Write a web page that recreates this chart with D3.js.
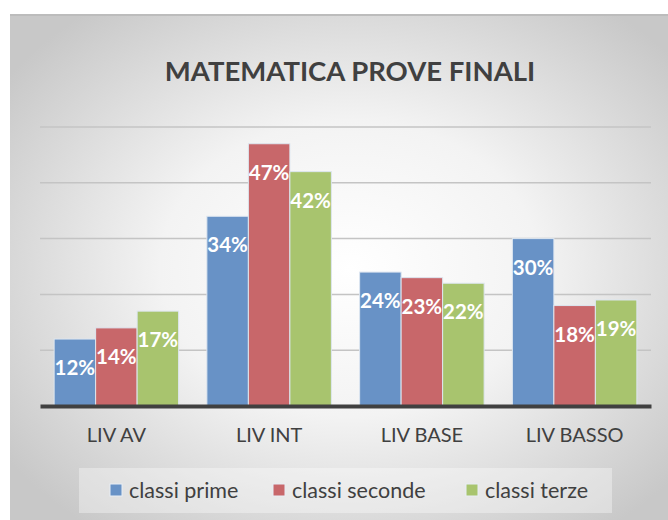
<!DOCTYPE html>
<html>
<head>
<meta charset="utf-8">
<script src="https://cdn.jsdelivr.net/npm/d3@7"></script>
<style>
  body { margin: 0; background: #ffffff; }
  svg { display: block; font-family: Lato, "Open Sans", sans-serif; }
</style>
</head>
<body>
<div id="chart"></div>
<script>
const categories = ["LIV AV", "LIV INT", "LIV BASE", "LIV BASSO"];
const seriesNames = ["classi prime", "classi seconde", "classi terze"];
const primeValues = [12, 34, 24, 30];
const secondeValues = [14, 47, 23, 18];
const terzeValues = [17, 42, 22, 19];
const yTicks = [0, 10, 20, 30, 40, 50];

const seriesValues = [primeValues, secondeValues, terzeValues];
const colors = ["#6892c6", "#c8676a", "#a8c46e"];

const width = 668;
const height = 520;
const margin = { top: 127, right: 17, bottom: 114, left: 40 };

const svg = d3
  .select("#chart")
  .append("svg")
  .attr("width", width)
  .attr("height", height);

// background gradient, like the office chart area
const defs = svg.append("defs");
const bg = defs
  .append("radialGradient")
  .attr("id", "bg")
  .attr("cx", "50%")
  .attr("cy", "48%")
  .attr("r", "62%");
bg.append("stop").attr("offset", "0%").attr("stop-color", "#ffffff");
bg.append("stop").attr("offset", "45%").attr("stop-color", "#f3f3f3");
bg.append("stop").attr("offset", "100%").attr("stop-color", "#c8c8c8");

svg
  .append("rect")
  .attr("x", 10)
  .attr("y", 14)
  .attr("width", 680)
  .attr("height", 530)
  .attr("fill", "url(#bg)");

svg
  .append("rect")
  .attr("x", 10)
  .attr("y", 14)
  .attr("width", 680)
  .attr("height", 2)
  .attr("fill", "#bcbcbc");

// title
svg
  .append("text")
  .attr("x", 350)
  .attr("y", 81)
  .attr("text-anchor", "middle")
  .attr("fill", "#404040")
  .style("font-size", "27.5px")
  .style("font-weight", "bold")
  .text("MATEMATICA PROVE FINALI");

const plotW = width - margin.left - margin.right;
const plotH = height - margin.top - margin.bottom;
const g = svg
  .append("g")
  .attr("transform", `translate(${margin.left},${margin.top})`);

const x0 = d3
  .scaleBand()
  .domain(categories)
  .range([0, plotW])
  .paddingInner(0.185)
  .paddingOuter(0.0925);

const x1 = d3
  .scaleBand()
  .domain(seriesNames)
  .range([0, x0.bandwidth()]);

const y = d3.scaleLinear().domain([0, 50]).range([plotH, 0]);

// gridlines
g.selectAll(".grid")
  .data(yTicks.slice(1))
  .join("line")
  .attr("class", "grid")
  .attr("x1", 0)
  .attr("x2", plotW)
  .attr("y1", (d) => y(d))
  .attr("y2", (d) => y(d))
  .attr("stroke", "#c4c4c4")
  .attr("stroke-width", 1.5);

// bars
const rows = categories.map((c, i) =>
  seriesNames.map((s, j) => ({ cat: c, series: s, value: seriesValues[j][i], j: j }))
);

const groups = g
  .selectAll(".group")
  .data(rows)
  .join("g")
  .attr("class", "group")
  .attr("transform", (d, i) => `translate(${x0(categories[i])},0)`);

groups
  .selectAll("rect")
  .data((d) => d)
  .join("rect")
  .attr("x", (d) => x1(d.series))
  .attr("width", x1.bandwidth())
  .attr("y", (d) => y(d.value))
  .attr("height", (d) => plotH - y(d.value))
  .attr("fill", (d) => colors[d.j])
  .attr("stroke", "#dde6f0")
  .attr("stroke-width", 1);

groups
  .selectAll(".label")
  .data((d) => d)
  .join("text")
  .attr("class", "label")
  .attr("x", (d) => x1(d.series) + x1.bandwidth() / 2)
  .attr("y", (d) => y(d.value) + 36)
  .attr("text-anchor", "middle")
  .attr("fill", "#ffffff")
  .style("font-size", "20.5px")
  .style("font-weight", "bold")
  .text((d) => d.value + "%");

// x axis
const xAxis = g
  .append("g")
  .attr("transform", `translate(0,${plotH})`)
  .call(d3.axisBottom(x0).tickSize(0).tickPadding(22));
xAxis.select(".domain").attr("stroke", "#404040").attr("stroke-width", 4);
xAxis
  .selectAll("text")
  .attr("fill", "#404040")
  .style("font-size", "20px")
  .style("font-family", "Lato, sans-serif");

// legend
const legend = svg.append("g").attr("transform", "translate(79,468)");
legend
  .append("rect")
  .attr("width", 533)
  .attr("height", 45)
  .attr("fill", "#ffffff")
  .attr("fill-opacity", 0.35);

const legendX = [31, 194, 387];
const items = legend
  .selectAll(".item")
  .data(seriesNames)
  .join("g")
  .attr("class", "item")
  .attr("transform", (d, i) => `translate(${legendX[i]},0)`);

items
  .append("rect")
  .attr("y", 16)
  .attr("width", 12)
  .attr("height", 12)
  .attr("fill", (d, i) => colors[i])
  .attr("stroke", "#e8eef5")
  .attr("stroke-width", 1);

items
  .append("text")
  .attr("x", 19)
  .attr("y", 30)
  .attr("fill", "#404040")
  .style("font-size", "21.5px")
  .text((d) => d);
</script>
</body>
</html>
